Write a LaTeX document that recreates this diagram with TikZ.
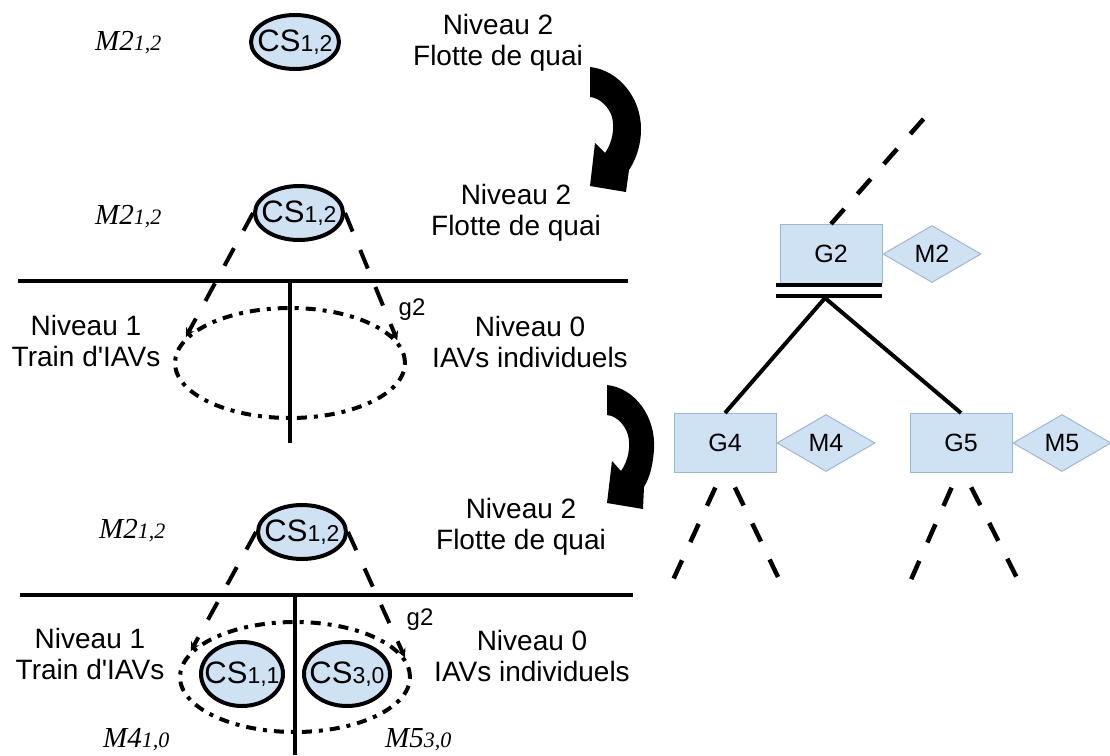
\documentclass[tikz,border=0pt]{standalone}
\usepackage{fontspec}
\setmainfont{Liberation Sans}
\newfontfamily\mlabfont{Liberation Serif}
\usetikzlibrary{shapes.geometric,arrows.meta}
\definecolor{lblue}{RGB}{207,226,243}
\definecolor{lborder}{RGB}{160,182,204}
\newcommand\sbs[1]{{\fontsize{23}{23}\selectfont #1}}
\newcommand\msb[1]{{\fontsize{22}{22}\selectfont #1}}
\tikzset{
  csnode/.style={ellipse, draw=black, line width=4pt, fill=lblue, inner sep=0pt,
    minimum width=88pt, minimum height=54pt, font=\fontsize{31}{31}\selectfont},
  grp/.style={ellipse, draw=black, line width=4pt, dash pattern=on 10pt off 7pt on 4pt off 7pt,
    minimum width=230pt, minimum height=110pt, inner sep=0pt},
  lvltext/.style={align=center, font=\fontsize{28}{31}\selectfont, inner sep=0pt},
  mtext/.style={font=\mlabfont\itshape\fontsize{29}{29}\selectfont, inner sep=0pt, anchor=base west},
  gtext/.style={font=\fontsize{24}{24}\selectfont, inner sep=0pt},
  dlink/.style={line width=4pt, dash pattern=on 20pt off 20pt, -{Stealth[length=9pt,width=9pt]}},
  tlink/.style={line width=4.5pt, dash pattern=on 20pt off 20pt},
  sepline/.style={line width=4pt},
  gbox/.style={rectangle, draw=lborder, line width=1pt, fill=lblue, minimum width=102pt,
    minimum height=59pt, inner sep=0pt, font=\fontsize{25}{25}\selectfont},
  mdia/.style={diamond, draw=lborder, line width=1pt, fill=lblue, minimum width=98pt,
    minimum height=57pt, inner sep=0pt, anchor=west, font=\fontsize{25}{25}\selectfont},
  turnarrow/.style={fill=black},
}
\newcommand\cstext[1]{\makebox[0pt][c]{CS\sbs{#1}}}
\begin{document}
\begin{tikzpicture}[x=1pt,y=-1pt]
\useasboundingbox (0,0) rectangle (1110,755);

% ---------- top ----------
\node[mtext] (mA) at (95,50) {M2\msb{1,2}};
\node[csnode] (csA) at (295,42) {\cstext{1,2}};
\node[lvltext] (lvA) at (498,43) {Niveau 2\\Flotte de quai};
\fill[turnarrow, shift={(590,67)}] (0,0) .. controls (28,3) and (51,30) .. (51,62)
  .. controls (51,80) and (45,94) .. (39,103) -- (36,125) -- (0,119) -- (5,76) -- (15,86)
  .. controls (22,76) and (25,62) .. (22,50) .. controls (19,40) and (10,31) .. (0,30) -- cycle;

% ---------- middle ----------
\node[mtext] (mB) at (95,224) {M2\msb{1,2}};
\node[csnode] (csB) at (299,213) {\cstext{1,2}};
\node[lvltext] (lvB) at (516,213) {Niveau 2\\Flotte de quai};
\draw[sepline] (18,281) -- (628,281);
\draw[sepline] (290,281) -- (290,443);
\node[grp] (grB) at (290,363) {};
\node[lvltext] (l1B) at (86,341) {Niveau 1\\Train d\textquotesingle IAVs};
\node[lvltext] (l0B) at (530,342) {Niveau 0\\IAVs individuels};
\node[gtext] (g2B) at (412,310) {g2};
\draw[dlink] (csB.west) -- (grB.166);
\draw[dlink] (csB.east) -- (grB.12);
\fill[turnarrow, shift={(607,385)}] (0,0) .. controls (28,3) and (49,32) .. (47,64)
  .. controls (46,80) and (43,92) .. (37,102) -- (36,124) -- (0,118) -- (5,76) -- (14,86)
  .. controls (21,76) and (24,62) .. (21,50) .. controls (18,40) and (10,31) .. (0,30) -- cycle;

% ---------- bottom ----------
\node[mtext] (mC) at (99,538) {M2\msb{1,2}};
\node[csnode] (csC) at (302,532) {\cstext{1,2}};
\node[lvltext] (lvC) at (521,527) {Niveau 2\\Flotte de quai};
\draw[sepline] (20,595) -- (633,595);
\draw[sepline] (295,595) -- (295,755);
\node[grp] (grC) at (295,677) {};
\node[csnode, minimum width=82pt, minimum height=64pt] (cs11) at (242,674) {\cstext{1,1}};
\node[csnode, minimum width=86pt, minimum height=64pt] (cs30) at (347,674) {\cstext{3,0}};
\node[lvltext] (l1C) at (90,654) {Niveau 1\\Train d\textquotesingle IAVs};
\node[lvltext] (l0C) at (532,656) {Niveau 0\\IAVs individuels};
\node[gtext] (g2C) at (420,620) {g2};
\node[mtext] (m4) at (103,747) {M4\msb{1,0}};
\node[mtext] (m5) at (385,747) {M5\msb{3,0}};
\draw[dlink] (csC.west) -- (grC.166);
\draw[dlink] (csC.east) -- (grC.10);

% ---------- tree ----------
\node[gbox] (G2) at (831,254) {G2};
\node[mdia] (M2) at (G2.east) {M2};
\node[gbox] (G4) at (725,443) {G4};
\node[mdia] (M4) at (G4.east) {M4};
\node[gbox] (G5) at (961,443) {G5};
\node[mdia] (M5) at (G5.east) {M5};
\draw[sepline] (776,285) -- (882,285);
\draw[sepline] (776,296) -- (882,296);
\coordinate (fork) at (825,298);
\draw[sepline] (fork) -- (G4.north);
\draw[sepline] (fork) -- (G5.north);
\coordinate (upend) at (927,115);
\draw[tlink] (G2.north) -- (upend);
\coordinate (g4l) at (673,580);
\coordinate (g4r) at (778,577);
\coordinate (g5l) at (910,582);
\coordinate (g5r) at (1018,580);
\draw[tlink, dash phase=24pt] ([xshift=-3pt]G4.south) -- (g4l);
\draw[tlink, dash phase=24pt] ([xshift=3pt]G4.south) -- (g4r);
\draw[tlink, dash phase=24pt] ([xshift=-3pt]G5.south) -- (g5l);
\draw[tlink, dash phase=24pt] ([xshift=3pt]G5.south) -- (g5r);
\end{tikzpicture}
\end{document}
